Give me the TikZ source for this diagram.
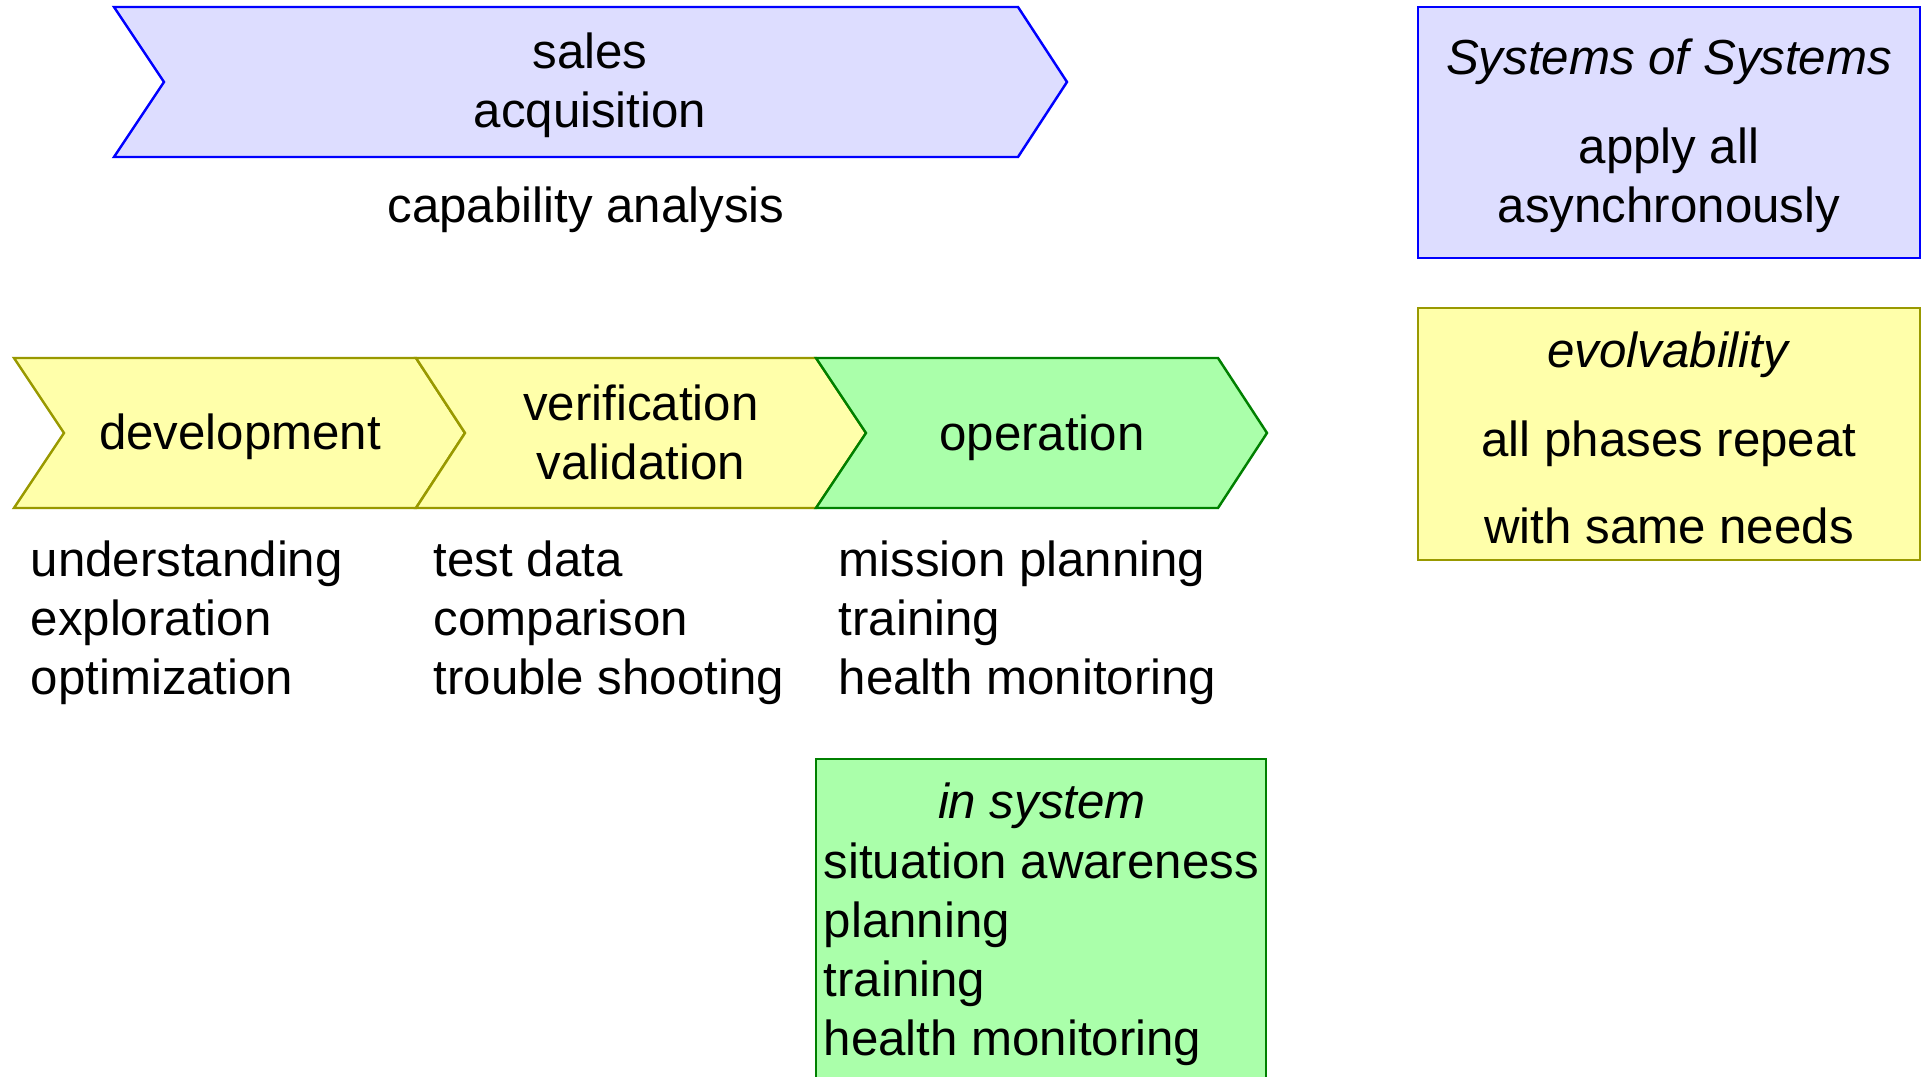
\documentclass[tikz,border=0pt]{standalone}
\usepackage{fontspec}
\setmainfont{Liberation Sans}
\usepackage{tikz}

\definecolor{salesblue}{HTML}{DDDDFF}
\definecolor{phaseyellow}{HTML}{FFFFAA}
\definecolor{phasegreen}{HTML}{AAFFAA}
\definecolor{yellowline}{HTML}{999900}
\definecolor{greenline}{HTML}{008000}

\tikzset{
  phase/.style={line width=0.7pt, line join=miter},
  bluephase/.style={phase, draw=blue, fill=salesblue},
  yellowphase/.style={phase, draw=yellowline, fill=phaseyellow},
  greenphase/.style={phase, draw=greenline, fill=phasegreen},
  txt/.style={font=\fontsize{14pt}{16.8pt}\selectfont, inner sep=0pt},
  listtxt/.style={txt, align=left, anchor=north west}
}

\begin{document}
\begin{tikzpicture}[x=0.01cm, y=-0.01cm]
\clip (0,0) rectangle (1923,1077);
\filldraw[bluephase] (114,7) -- (1018,7) -- (1067,82) -- (1018,157) -- (114,157) -- (164,82) -- cycle;
\filldraw[yellowphase] (14,358) -- (416,358) -- (465,433) -- (416,508) -- (14,508) -- (64,433) -- cycle;
\filldraw[yellowphase] (416,358) -- (816,358) -- (866,433) -- (816,508) -- (416,508) -- (465,433) -- cycle;
\filldraw[greenphase] (816,358) -- (1218,358) -- (1267,433) -- (1218,508) -- (816,508) -- (866,433) -- cycle;
\filldraw[bluephase] (1418,7) rectangle (1920,258);
\filldraw[yellowphase] (1418,308) rectangle (1920,560);
\filldraw[greenphase] (816,759) rectangle (1266,1100);

\node[txt, align=center] (sales) at (590,85) {sales\\acquisition};
\node[txt, anchor=base] (capab) at (586,223) {capability analysis};
\node[txt, anchor=base] (dev) at (240,450) {development};
\node[txt, align=center] (verval) at (641,432) {verification\\validation};
\node[txt, anchor=base] (op) at (1042,451) {operation};

\node[listtxt] (devlist) at (30,540) {understanding\\exploration\\optimization};
\node[listtxt] (verlist) at (433,540) {test data\\comparison\\trouble shooting};
\node[listtxt] (oplist) at (838,540) {mission planning\\training\\health monitoring};

\node[txt, align=center] (sos) at (1669,135.5) {\textit{Systems of Systems}\\[0.3cm]apply all\\asynchronously};
\node[txt, align=center] (evolv) at (1669,438) {\textit{evolvability}\\[0.29cm]all phases repeat\\[0.28cm]with same needs};

\node[txt, anchor=base] (insys) at (1042,819) {\textit{in system}};
\node[listtxt] (insyslist) at (823,842) {situation awareness\\planning\\training\\health monitoring};
\end{tikzpicture}
\end{document}
